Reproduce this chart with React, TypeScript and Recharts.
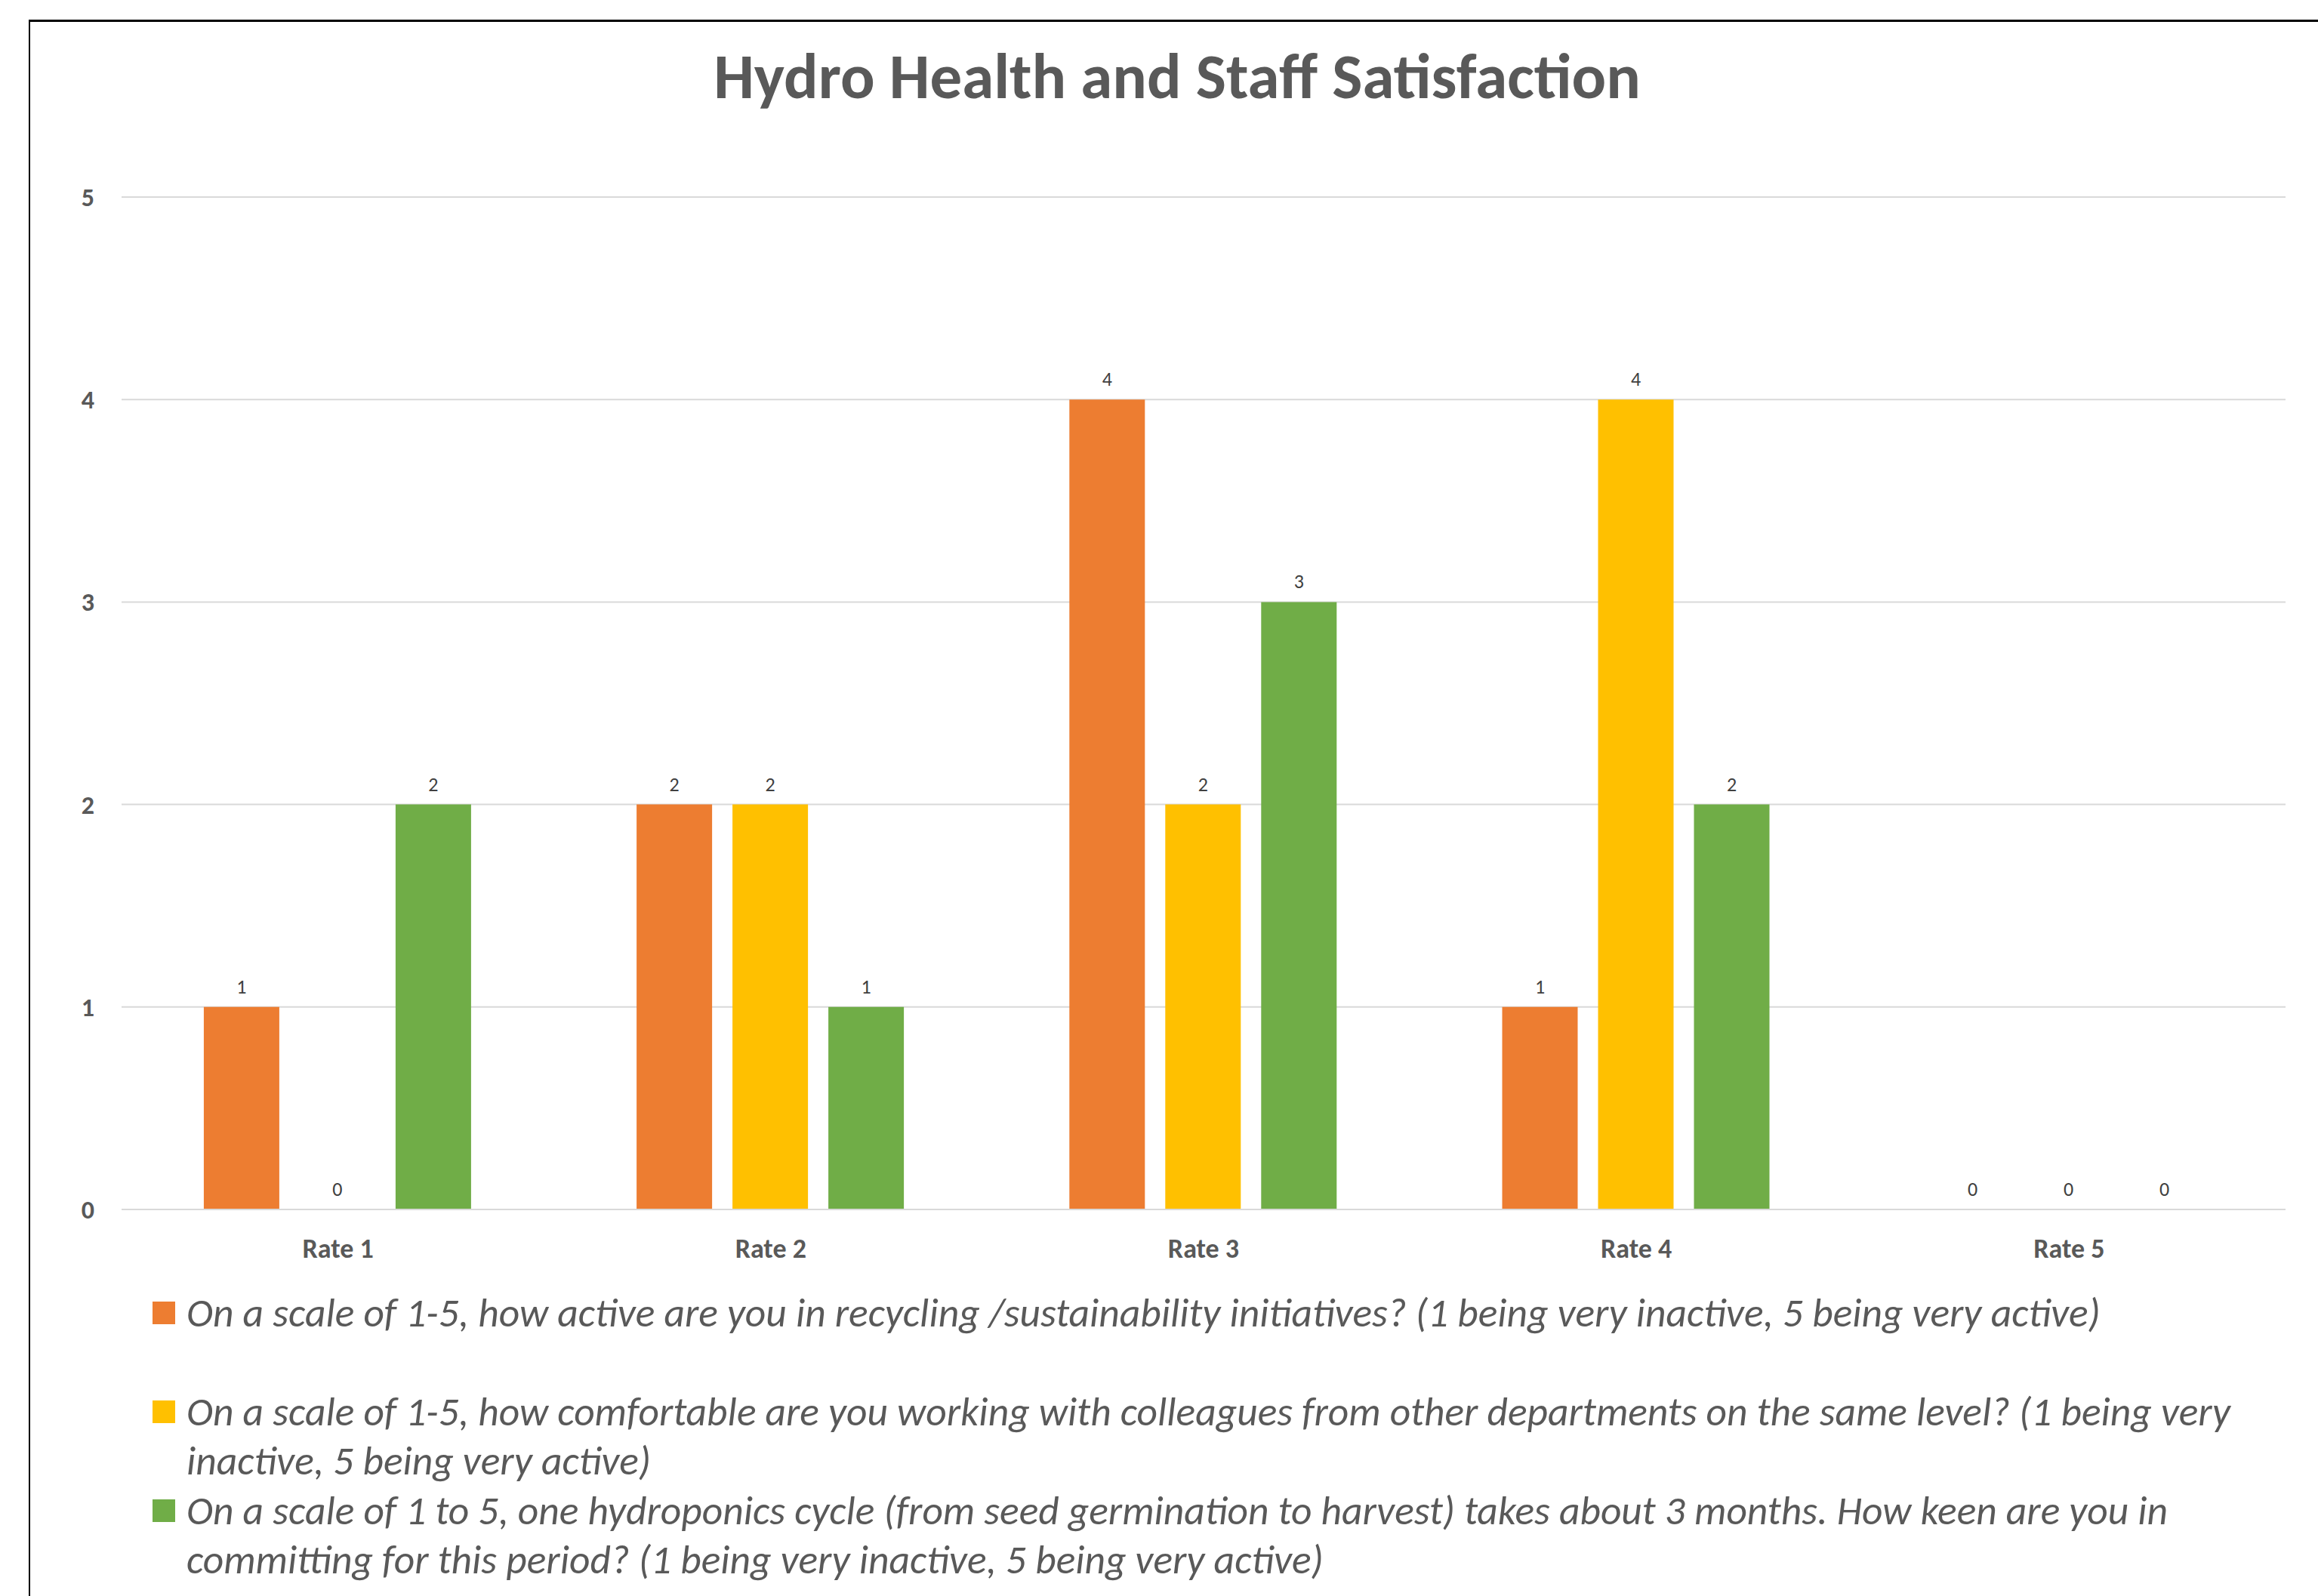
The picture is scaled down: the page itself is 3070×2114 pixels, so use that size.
import React from 'react';
import { BarChart, Bar, XAxis, YAxis, CartesianGrid, Legend, LabelList } from 'recharts';

const categories = ['Rate 1', 'Rate 2', 'Rate 3', 'Rate 4', 'Rate 5'];
const recycling = [1, 2, 4, 1, 0];
const colleagues = [0, 2, 2, 4, 0];
const hydroponics = [2, 1, 3, 2, 0];
const yTicks = [0, 1, 2, 3, 4, 5];

const seriesNames = [
    'On a scale of 1-5, how active are you in recycling /sustainability initiatives? (1 being very inactive, 5 being very active)',
    'On a scale of 1-5, how comfortable are you working with colleagues from other departments on the same level? (1 being very inactive, 5 being very active)',
    'On a scale of 1 to 5, one hydroponics cycle (from seed germination to harvest) takes about 3 months. How keen are you in committing for this period? (1 being very inactive, 5 being very active)',
];

const data = categories.map((c, i) => ({
    name: c,
    recycling: recycling[i],
    colleagues: colleagues[i],
    hydroponics: hydroponics[i],
}));

const FONT = 'Carlito, Calibri, Lato, sans-serif';
const TEXT = '#595959';

// zero bars get a hair of height so their labels still show
const tinyMin = (v: any) => (Number(v) === 0 ? 0.01 : 0);

const LegendBox = (props: any) => {
    const payload = [...(props.payload || [])].sort(
        (a: any, b: any) => seriesNames.indexOf(a.value) - seriesNames.indexOf(b.value)
    );
    return (
        <div style={{ fontFamily: FONT, fontStyle: 'italic', fontSize: 53.5, color: TEXT }}>
            {payload.map((p: any) => (
                <div key={p.value} style={{ display: 'flex', alignItems: 'flex-start', minHeight: 131 }}>
                    <div style={{ width: 30, height: 30, background: p.color, marginTop: 18, marginRight: 15, flex: 'none' }} />
                    <div style={{ lineHeight: '65px', width: 2780 }}>{p.value}</div>
                </div>
            ))}
        </div>
    );
};

const ValueLabel = (props: any) => {
    const { x, y, width, value } = props;
    return (
        <text
            x={Number(x) + Number(width) / 2}
            y={Number(y) - 18}
            textAnchor="middle"
            fill="#404040"
            fontSize={26}
            fontFamily={FONT}
        >
            {String(value)}
        </text>
    );
};

const App: React.FC = () => {
    return (
        <div style={{ position: 'absolute', left: 0, top: 0, width: 3070, height: 2114, overflow: 'hidden', background: '#fff' }}>
            <div
                style={{
                    position: 'absolute', left: 38, top: 26, width: 3100, height: 2200,
                    borderTop: '3px solid #000', borderLeft: '2px solid #000',
                }}
            />
            <div
                style={{
                    position: 'absolute', left: 0, top: 59, width: 3118, textAlign: 'center',
                    fontFamily: FONT, fontWeight: 'bold', fontSize: 85, lineHeight: '85px', color: TEXT,
                }}
            >
                Hydro Health and Staff Satisfaction
            </div>
            <div style={{ position: 'absolute', left: 0, top: 0 }}>
                <BarChart
                    width={3070}
                    height={2114}
                    data={data}
                    margin={{ top: 261, right: 43, left: 0, bottom: 432 }}
                    barCategoryGap="19%"
                    barGap={27}
                >
                    <CartesianGrid vertical={false} stroke="#d9d9d9" strokeWidth={2} />
                    <XAxis
                        dataKey="name"
                        height={80}
                        axisLine={{ stroke: '#d9d9d9', strokeWidth: 2 }}
                        tickLine={false}
                        tickSize={0}
                        tickMargin={38}
                        tick={{ fill: TEXT, fontSize: 36, fontWeight: 'bold', fontFamily: FONT }}
                    />
                    <YAxis
                        width={161}
                        domain={[0, 5]}
                        ticks={yTicks}
                        axisLine={false}
                        tickLine={false}
                        tickSize={0}
                        tickMargin={36}
                        tick={{ fill: TEXT, fontSize: 34, fontWeight: 'bold', fontFamily: FONT }}
                    />
                    <Legend
                        layout="horizontal"
                        verticalAlign="middle"
                        align="center"
                        content={<LegendBox />}
                        wrapperStyle={{ top: 1706, left: 202, width: 2840, height: 400 }}
                    />
                    <Bar dataKey="recycling" name={seriesNames[0]} fill="#ED7D31" minPointSize={tinyMin} isAnimationActive={false}>
                        <LabelList dataKey="recycling" content={<ValueLabel />} />
                    </Bar>
                    <Bar dataKey="colleagues" name={seriesNames[1]} fill="#FFC000" minPointSize={tinyMin} isAnimationActive={false}>
                        <LabelList dataKey="colleagues" content={<ValueLabel />} />
                    </Bar>
                    <Bar dataKey="hydroponics" name={seriesNames[2]} fill="#70AD47" minPointSize={tinyMin} isAnimationActive={false}>
                        <LabelList dataKey="hydroponics" content={<ValueLabel />} />
                    </Bar>
                </BarChart>
            </div>
        </div>
    );
};

export default App;
